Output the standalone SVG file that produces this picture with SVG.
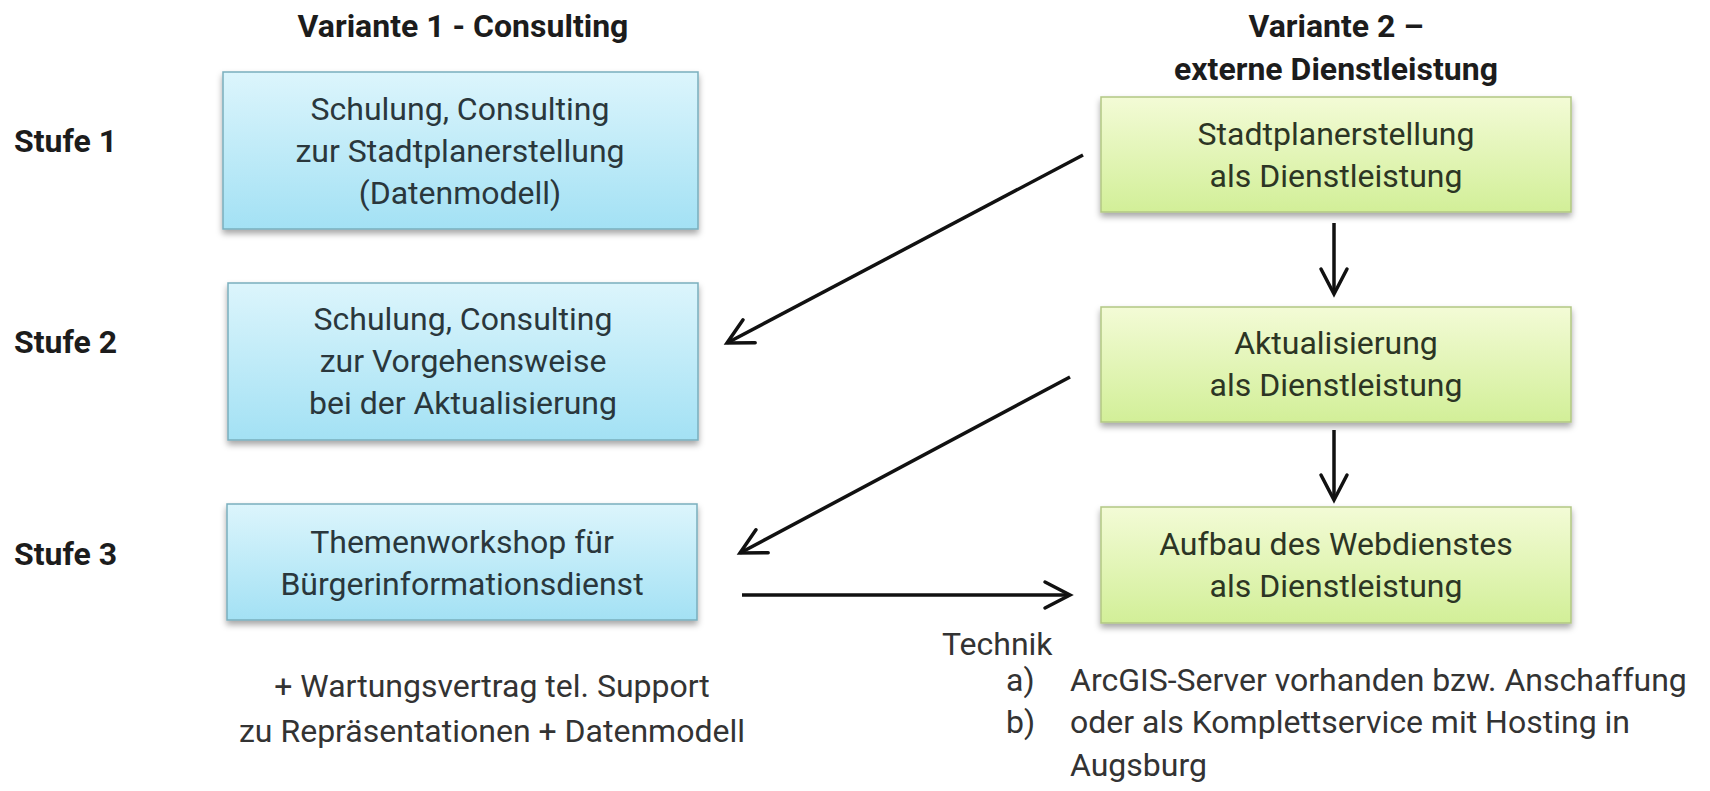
<svg xmlns="http://www.w3.org/2000/svg" width="1710" height="791" viewBox="0 0 1710 791">
<style>
text{font-family:Roboto,"Liberation Sans",sans-serif}
.t{font-size:32px;font-weight:bold;fill:#1c1c1c}
.b{font-size:32px;fill:#2a373c;text-anchor:middle}
.g{font-size:32px;fill:#2c3524;text-anchor:middle}
.n{font-size:32px;fill:#333}
.blue{fill:url(#gb);stroke:#79aebd;stroke-width:1.5;filter:url(#sh)}
.green{fill:url(#gg);stroke:#b2c784;stroke-width:1.5;filter:url(#sh)}
.c{stroke:#111;stroke-width:3.5;fill:none;marker-end:url(#ah)}
</style>
<defs>
<linearGradient id="gb" x1="0" y1="0" x2="0" y2="1"><stop offset="0" stop-color="#dcf5fc"/><stop offset="1" stop-color="#a3e1f4"/></linearGradient>
<linearGradient id="gg" x1="0" y1="0" x2="0" y2="1"><stop offset="0" stop-color="#f3fbd6"/><stop offset="1" stop-color="#d2ef98"/></linearGradient>
<filter id="sh" x="-5%" y="-10%" width="110%" height="130%"><feDropShadow dx="0" dy="4" stdDeviation="3" flood-color="#000" flood-opacity="0.35"/></filter>
<marker id="ah" markerUnits="userSpaceOnUse" markerWidth="40" markerHeight="40" viewBox="-30 -20 40 40" refX="0" refY="0" orient="auto"><path d="M-25,-13 L0,0 L-25,13" fill="none" stroke="#111" stroke-width="3.5" stroke-linecap="round" stroke-linejoin="miter"/></marker>
</defs>
<rect width="1710" height="791" fill="#fff"/>
<g id="headers">
<text class="t" x="463" y="37" text-anchor="middle">Variante 1 - Consulting</text>
<text class="t" x="1336" y="37" text-anchor="middle">Variante 2 –</text>
<text class="t" x="1336" y="80" text-anchor="middle">externe Dienstleistung</text>
<text class="t" x="14" y="152">Stufe 1</text>
<text class="t" x="14" y="353">Stufe 2</text>
<text class="t" x="14" y="565">Stufe 3</text>
</g>
<g id="b1"><rect class="blue" x="223" y="72" width="475" height="157"/>
<text class="b" x="460" y="120">Schulung, Consulting</text>
<text class="b" x="460" y="162">zur Stadtplanerstellung</text>
<text class="b" x="460" y="204">(Datenmodell)</text></g>
<g id="b2"><rect class="blue" x="228" y="283" width="470" height="157"/>
<text class="b" x="463" y="330">Schulung, Consulting</text>
<text class="b" x="463" y="372">zur Vorgehensweise</text>
<text class="b" x="463" y="414">bei der Aktualisierung</text></g>
<g id="b3"><rect class="blue" x="227" y="504" width="470" height="116"/>
<text class="b" x="462" y="553">Themenworkshop für</text>
<text class="b" x="462" y="595">Bürgerinformationsdienst</text></g>
<g id="g1"><rect class="green" x="1101" y="97" width="470" height="115"/>
<text class="g" x="1336" y="145">Stadtplanerstellung</text>
<text class="g" x="1336" y="187">als Dienstleistung</text></g>
<g id="g2"><rect class="green" x="1101" y="307" width="470" height="115"/>
<text class="g" x="1336" y="354">Aktualisierung</text>
<text class="g" x="1336" y="396">als Dienstleistung</text></g>
<g id="g3"><rect class="green" x="1101" y="507" width="470" height="116"/>
<text class="g" x="1336" y="555">Aufbau des Webdienstes</text>
<text class="g" x="1336" y="597">als Dienstleistung</text></g>
<g id="connectors">
<line class="c" x1="1083" y1="155" x2="727" y2="343"/>
<line class="c" x1="1070" y1="377" x2="740" y2="553"/>
<line class="c" x1="742" y1="595" x2="1070" y2="595"/>
<line class="c" x1="1334" y1="223" x2="1334" y2="294"/>
<line class="c" x1="1334" y1="430" x2="1334" y2="500"/>
</g>
<g id="notes">
<text class="n" x="492" y="697" text-anchor="middle">+ Wartungsvertrag tel. Support</text>
<text class="n" x="492" y="742" text-anchor="middle">zu Repräsentationen + Datenmodell</text>
<text class="n" x="942" y="655">Technik</text>
<text class="n" x="1006" y="691">a)</text>
<text class="n" x="1070" y="691">ArcGIS-Server vorhanden bzw. Anschaffung</text>
<text class="n" x="1006" y="733">b)</text>
<text class="n" x="1070" y="733">oder als Komplettservice mit Hosting in</text>
<text class="n" x="1070" y="776">Augsburg</text>
</g>
</svg>
